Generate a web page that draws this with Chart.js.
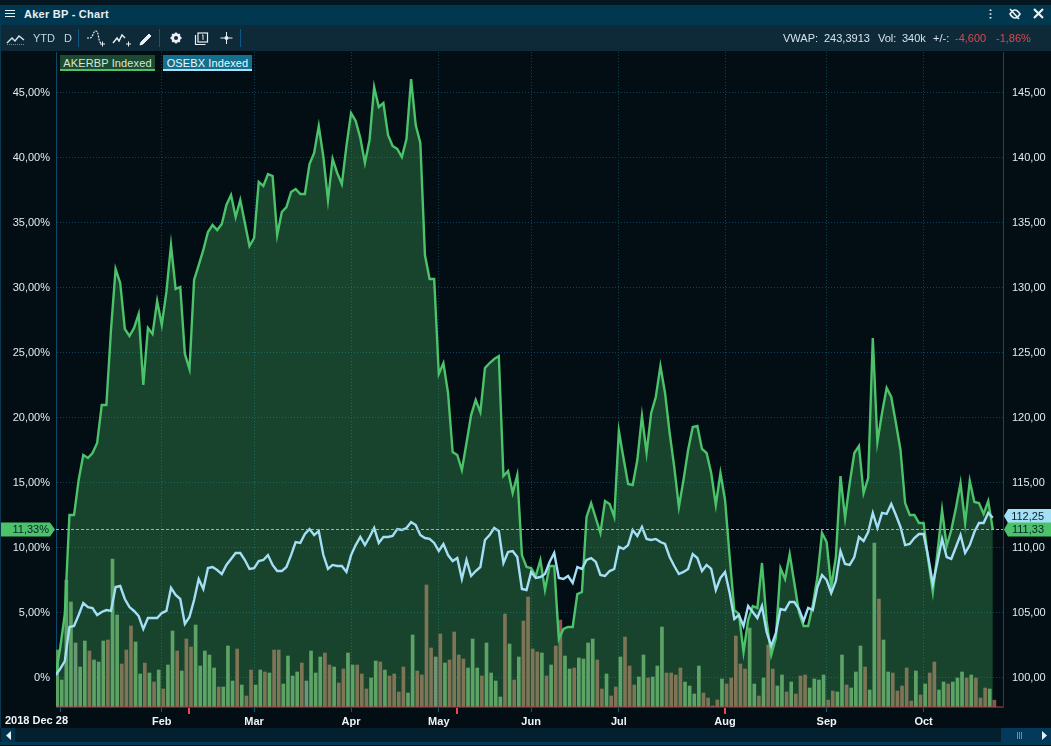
<!DOCTYPE html>
<html>
<head>
<meta charset="utf-8">
<title>Aker BP - Chart</title>
<script src="https://cdn.jsdelivr.net/npm/chart.js@4"></script>
<style>
    html, body { margin: 0; padding: 0; background: #020d14; overflow: hidden; }
    body { width: 1051px; height: 746px; position: relative; font: 11px "Liberation Sans", Arial, sans-serif; color: #c8dbe6; }
    canvas { position: absolute; left: 0; top: 0; }
    .abs { position: absolute; white-space: nowrap; }
    #topStrip { left: 0; top: 0; width: 1051px; height: 5px; background: #04161f; }
    #titleBar { left: 0; top: 5px; width: 1051px; height: 20px; background: #013850; }
    #toolBar { left: 0; top: 25px; width: 1051px; height: 26px; background: #0e2937; }
    #title { left: 24px; top: 8px; font-weight: bold; color: #e8f0f4; letter-spacing: .25px; line-height: 13px; }
    .tool { top: 32px; line-height: 13px; color: #bcd6e6; }
    .sep { top: 29px; width: 1px; height: 18px; background: #0a5a85; }
    .stat { top: 32px; line-height: 13px; color: #d4e3ec; }
    .neg { color: #e2474c; }
    .chip { top: 55px; height: 14px; line-height: 16px; text-align: center; letter-spacing: .12px; }
    #chipAker { left: 60px; width: 95px; background: #1c4a30; border-bottom: 2px solid #4cc36a; color: #d6e8da; }
    #chipOse { left: 163px; width: 89px; background: #136f8e; border-bottom: 2px solid #a5e2f8; color: #eef8fc; }
    #scrollTrack { left: 0; top: 728px; width: 1051px; height: 14px; background: #04202e; }
    #scrollLeft { left: 1px; top: 728px; width: 14px; height: 14px; background: #03334c; }
    #scrollRight { left: 1001px; top: 728px; width: 50px; height: 14px; background: #03395a; }
    #footLine { left: 0; top: 742px; width: 1051px; height: 3px; background: #013a55; }
    #edgeLine { left: 0; top: 25px; width: 1px; height: 717px; background: #0a3a50; }
</style>
</head>
<body>
<canvas id="mainChart" width="1051" height="746"></canvas>

<div class="abs" id="topStrip"></div>
<div class="abs" id="titleBar"></div>
<div class="abs" id="toolBar"></div>
<div class="abs" id="title">Aker BP - Chart</div>
<div class="abs" id="edgeLine"></div>

<!-- title bar and toolbar icons -->
<svg class="abs" style="left:0;top:0" width="1051" height="51" fill="none" stroke="#e8f0f4">
    <path d="M5 10.5h10M5 13.5h10M5 16.5h10" stroke-width="1.2"/>
    <path d="M990.5 9.5v1.6M990.5 13.2v1.6M990.5 16.9v1.6" stroke-width="1.8"/>
    <path d="M1010 14c2-3 3.500-4 5-4s3 1 5 4c-2 3-3.500 4-5 4s-3-1-5-4zM1010 9l9 10" stroke-width="1.6"/>
    <path d="M1034 9l9 9M1043 9l-9 9" stroke-width="2.2"/>

    <path d="M7 43l5-5 3 3 4-5 5 4" stroke="#d8e4ea" stroke-width="1.4"/>
    <path d="M7 44.500h18" stroke="#6f8a99" stroke-dasharray="1 1"/>
    <path d="M87 38h3c3 0 3-7 6-7s2 11 5 12" stroke="#e8f0f4" stroke-width="1.2" stroke-dasharray="2 1"/>
    <path d="M100 44h5M102.500 41.500v5M126 44h5M128.500 41.500v5" stroke-width="1"/>
    <path d="M113 43l4-5 2 3 3-6 3 3" stroke-width="1.4"/>
    <path d="M140 45l1-3 8-8 2 2-8 8z" fill="#e8f0f4" stroke-width="1"/>
    <circle cx="176" cy="38" r="3.400" stroke-width="2.800"/>
    <path d="M176 32.500v2M176 41.500v2M170.500 38h2M179.500 38h2M172.200 34.200l1.300 1.300M178.500 40.500l1.300 1.300M172.200 41.800l1.300-1.300M178.500 35.500l1.300-1.300" stroke-width="1.800"/>
    <rect x="198" y="33" width="9.500" height="9" stroke-width="1.200"/>
    <path d="M195.500 35v9.500h10" stroke-width="1.200"/>
    <path d="M202 35.500l1-.6v5" stroke-width="1"/>
    <path d="M226.500 32v12M220.500 38h12" stroke-width="1"/>
    <circle cx="226.500" cy="38" r="2" fill="#e8f0f4" stroke="none"/>
</svg>

<div class="abs tool" style="left:33px">YTD</div>
<div class="abs tool" style="left:64px">D</div>
<div class="abs sep" style="left:78px"></div>
<div class="abs sep" style="left:159px"></div>
<div class="abs sep" style="left:240px"></div>

<div class="abs stat" style="left:783px">VWAP:</div>
<div class="abs stat" style="left:824px">243,3913</div>
<div class="abs stat" style="left:878px">Vol:</div>
<div class="abs stat" style="left:902px">340k</div>
<div class="abs stat" style="left:933px">+/-:</div>
<div class="abs stat neg" style="left:955px">-4,600</div>
<div class="abs stat neg" style="left:996px">-1,86%</div>

<div class="abs chip" id="chipAker">AKERBP Indexed</div>
<div class="abs chip" id="chipOse">OSEBX Indexed</div>

<div class="abs" id="scrollTrack"></div>
<div class="abs" id="scrollLeft"></div>
<div class="abs" id="scrollRight"></div>
<div class="abs" id="footLine"></div>
<svg class="abs" style="left:0;top:728px" width="1051" height="14">
    <path d="M11 3v9l-5-4.500z" fill="#e8f0f4"/>
    <path d="M1042 3v9l5-4.500z" fill="#e8f0f4"/>
    <path d="M1017.500 4v7M1019.500 4v7M1021.500 4v7" stroke="#6f8a99"/>
</svg>

<script>
// Indexed performance in percent, one value per trading day from 2018 Dec 28
const akerValues = [
    0.15, 2.23, 4.85, 12.46, 12.46, 15.15, 17.08, 16.85, 17.23, 18.0,
    20.92, 20.92, 26.69, 31.38, 30.31, 26.77, 26.23, 26.85, 27.92, 22.46,
    26.85, 26.38, 28.92, 27.08, 29.62, 33.23, 29.85, 30.0, 24.85, 23.69,
    30.54, 31.69, 32.85, 34.23, 34.77, 34.38, 34.85, 36.31, 37.08, 35.38,
    36.69, 34.92, 33.15, 33.77, 38.08, 37.77, 38.69, 38.54, 34.0, 35.77,
    36.15, 37.31, 37.54, 37.15, 37.15, 39.46, 40.31, 42.38, 40.0, 36.69,
    39.85, 38.77, 37.92, 40.85, 43.38, 42.77, 41.46, 39.54, 41.31, 45.38,
    43.85, 44.15, 41.69, 40.85, 40.62, 40.0, 41.38, 46.0, 42.46, 41.08,
    32.46, 30.62, 30.62, 23.31, 24.15, 21.85, 17.31, 17.08, 15.92, 18.0,
    20.15, 21.31, 20.38, 23.77, 24.15, 24.46, 24.69, 15.46, 15.85, 14.15,
    15.54, 9.38, 8.46, 8.38, 7.77, 9.0, 6.69, 8.54, 8.54, 2.92,
    3.69, 3.85, 3.85, 6.38, 6.54, 12.31, 13.38, 12.23, 11.08, 13.54,
    13.31, 12.31, 18.92, 16.85, 14.85, 14.77, 16.69, 20.08, 17.23, 20.31,
    21.54, 23.92, 21.85, 18.77, 16.15, 13.08, 15.15, 17.46, 19.23, 19.31,
    17.54, 17.23, 15.69, 13.23, 15.69, 13.62, 9.23, 5.15, 4.85, 1.92,
    4.38, 5.46, 5.31, 8.77, 4.31, 1.69, 3.0, 8.38, 7.54, 9.46,
    7.23, 5.0, 3.92, 3.92, 5.54, 7.69, 11.08, 10.38, 6.92, 9.23,
    15.46, 12.23, 14.92, 17.23, 17.77, 14.15, 15.31, 26.08, 18.08, 20.31,
    22.23, 21.54, 19.54, 17.46, 13.38, 12.46, 12.46, 11.85, 11.85, 9.0,
    6.54, 9.54, 12.85, 10.08, 11.31, 13.0, 14.92, 11.85, 15.08, 13.46,
    13.38, 12.54, 13.54, 11.33
];

const osebxValues = [
    0.15, 0.62, 1.23, 3.85, 3.92, 4.77, 5.69, 5.38, 5.31, 4.77,
    5.0, 5.15, 5.08, 6.92, 7.0, 6.0, 5.38, 5.08, 4.69, 3.69,
    4.54, 4.54, 4.54, 4.92, 5.08, 6.85, 6.31, 6.0, 4.08, 4.62,
    5.92, 7.54, 6.77, 8.38, 8.46, 8.23, 7.92, 8.62, 9.08, 9.54,
    9.54, 9.0, 8.31, 8.38, 8.92, 9.0, 9.38, 8.62, 8.15, 8.15,
    8.46, 9.38, 10.38, 10.31, 11.0, 11.38, 10.92, 11.23, 9.38, 8.31,
    8.62, 8.54, 8.54, 8.08, 9.38, 10.15, 10.77, 10.15, 10.77, 11.46,
    10.31, 10.77, 10.77, 10.85, 11.38, 11.31, 11.46, 11.92, 11.69, 10.92,
    10.69, 10.62, 10.31, 9.69, 10.23, 9.38, 8.92, 9.15, 7.54, 9.0,
    7.77, 8.15, 8.46, 10.54, 10.92, 11.46, 11.23, 8.77, 9.62, 9.69,
    9.23, 6.77, 6.69, 8.08, 7.62, 7.69, 7.92, 8.85, 9.54, 7.62,
    7.54, 7.77, 7.23, 8.46, 8.31, 9.0, 9.15, 8.85, 7.85, 7.77,
    8.15, 8.31, 10.0, 9.85, 10.15, 11.31, 10.85, 11.54, 10.62, 10.54,
    10.62, 10.38, 10.23, 9.23, 8.54, 7.92, 8.08, 8.31, 9.46, 9.15,
    8.15, 8.62, 8.31, 6.69, 7.62, 8.08, 6.46, 4.46, 4.77, 3.92,
    5.46, 5.0, 4.54, 5.46, 3.46, 2.38, 3.38, 5.23, 5.15, 5.77,
    5.77, 5.23, 4.31, 5.31, 5.15, 6.92, 7.85, 7.46, 6.46, 7.38,
    9.69, 8.69, 8.62, 9.23, 10.77, 10.46, 11.15, 12.62, 11.46, 12.62,
    12.54, 13.31, 12.46, 11.54, 10.15, 10.23, 10.69, 11.0, 11.0, 9.23,
    7.15, 8.85, 10.62, 9.23, 9.08, 10.0, 10.92, 9.54, 10.15, 11.15,
    11.85, 11.85, 12.62, 12.25
];

// Daily volume in thousands of shares
const volumes = [
    2850, 1350, 6350, 5250, 3200, 2000, 3300, 2800, 2350, 2250,
    3300, 3350, 7400, 4600, 2150, 2850, 4050, 3250, 1650, 2200,
    1700, 1250, 1850, 900, 2100, 3800, 2800, 1800, 3400, 3000,
    4100, 2050, 2800, 2600, 1950, 1000, 1000, 3050, 1300, 2900,
    1100, 550, 1850, 1100, 1850, 1750, 1700, 2850, 2850, 1150,
    2550, 1550, 1750, 2200, 1300, 2800, 1700, 2500, 2700, 2100,
    2000, 1200, 1900, 2700, 2100, 2100, 1650, 900, 1450, 2300,
    2250, 1850, 1550, 1650, 750, 2000, 700, 3600, 1800, 1600,
    6100, 2950, 2500, 3650, 2200, 2350, 3750, 2600, 2400, 1950,
    3400, 1950, 1550, 3200, 1700, 1300, 500, 4650, 3150, 1350,
    2500, 4300, 5500, 2900, 2750, 2700, 1550, 2100, 3050, 4350,
    2550, 1900, 1950, 2450, 2400, 3200, 3400, 2350, 900, 1650,
    550, 1000, 2500, 3500, 2050, 1100, 1500, 2600, 1450, 1500,
    2050, 4000, 1700, 1700, 1600, 1950, 1250, 1050, 650, 2050,
    700, 450, 50, 350, 1400, 1150, 1450, 3550, 2150, 1900,
    3950, 1150, 550, 1450, 3100, 1900, 1050, 1600, 750, 1250,
    650, 1550, 1600, 950, 1400, 1350, 1600, 350, 800, 750,
    2600, 1100, 950, 1750, 3050, 2000, 850, 8200, 5400, 3350,
    1750, 1700, 800, 1050, 1950, 300, 1800, 600, 1150, 1700,
    2250, 850, 1250, 1150, 1250, 1450, 1750, 1450, 1600, 1450,
    450, 950, 900, 340
];

// u = up day, d = down day, f = flat day
const volumeSides = [
    'uuuuf', 'uuduu', 'uduud', 'dduud', 'ududu', 'ududd', 'uuuuu', 'duuud',
    'udduu', 'duddu', 'uuudf', 'uuudd', 'udduu', 'ddduu', 'duddd', 'duudd',
    'ddfdu', 'ddddu', 'uuduu', 'uudud', 'udddd', 'ududd', 'uuduu', 'uuddu',
    'ddudd', 'duudu', 'uuddd', 'duuuu', 'ddddu', 'ddddd', 'uudud', 'duudu',
    'ddduu', 'uuddu', 'uduuu', 'duudu', 'udddd', 'dudud', 'duudu', 'uudud',
    'ddud'
].join('');

// X axis ticks as trading day numbers
const firstTickDay = 1;
const firstTickLabel = '2018 Dec 28';
const monthTickDays = [23, 43, 64, 83, 103, 122, 145, 167, 188];
const monthLabels = ['Feb', 'Mar', 'Apr', 'May', 'Jun', 'Jul', 'Aug', 'Sep', 'Oct'];

// Trading days with an event marker under the axis
const eventDays = [29, 87, 145];

// Value axes
const percentMin = -30 / 13;
const percentMax = 625 / 13;
const indexBase = 100;

// Colours
const AKER_COLOR = '#4cc36a';
const OSEBX_COLOR = '#a5dff5';
const GRID_COLOR = '#0b4258';
const AXIS_COLOR = '#0c4a6a';
const LABEL_COLOR = '#e2ebf0';
const VOLUME_COLORS = { u: 'rgb(100,150,100)', d: 'rgb(148,82,78)', f: 'rgb(124,130,126)' };

function formatComma(value) {
    return value.toFixed(2).replace('.', ',');
}

// Small value tag next to an axis, pointing at the plot
function drawTag(ctx, left, right, y, tipX, color, text) {
    ctx.fillStyle = color;
    ctx.beginPath();
    if (tipX > right) {
        ctx.moveTo(left, y - 7);
        ctx.lineTo(right, y - 7);
        ctx.lineTo(tipX, y);
        ctx.lineTo(right, y + 7);
        ctx.lineTo(left, y + 7);
    } else {
        ctx.moveTo(right, y - 7);
        ctx.lineTo(left, y - 7);
        ctx.lineTo(tipX, y);
        ctx.lineTo(left, y + 7);
        ctx.lineTo(right, y + 7);
    }
    ctx.closePath();
    ctx.fill();
    ctx.fillStyle = '#06222a';
    ctx.font = '11px "Liberation Sans"';
    ctx.textBaseline = 'middle';
    ctx.textAlign = 'right';
    ctx.fillText(text, tipX > right ? 49 : 1044, y + 0.5);
}

// Reference line, value tags, first date label and event markers
const overlayPlugin = {
    id: 'overlay',
    afterDraw(chart) {
        const { ctx, chartArea } = chart;
        const x = chart.scales.x;
        const y = chart.scales.y;
        const lastAker = akerValues[akerValues.length - 1];
        const lastOsebx = osebxValues[osebxValues.length - 1];
        const akerY = Math.floor(y.getPixelForValue(lastAker)) + 0.5;
        const osebxY = Math.floor(y.getPixelForValue(lastOsebx)) - 1;

        ctx.save();

        // thin red run along the foot of the volume bars
        ctx.strokeStyle = 'rgba(170,60,70,0.55)';
        ctx.lineWidth = 1;
        ctx.beginPath();
        ctx.moveTo(chartArea.left, chartArea.bottom - 0.5);
        ctx.lineTo(chartArea.right, chartArea.bottom - 0.5);
        ctx.stroke();

        ctx.strokeStyle = '#6fd08c';
        ctx.setLineDash([3, 2]);
        ctx.beginPath();
        ctx.moveTo(chartArea.left, akerY);
        ctx.lineTo(chartArea.right, akerY);
        ctx.stroke();
        ctx.setLineDash([]);

        drawTag(ctx, 0, 50, akerY, 55, AKER_COLOR, formatComma(lastAker) + '%');
        drawTag(ctx, 1008, 1051, osebxY, 1004, OSEBX_COLOR, formatComma(indexBase + lastOsebx));
        drawTag(ctx, 1008, 1051, akerY, 1004, AKER_COLOR, formatComma(indexBase + lastAker));

        ctx.fillStyle = '#f0f4f6';
        ctx.font = 'bold 11px "Liberation Sans"';
        ctx.textAlign = 'left';
        ctx.textBaseline = 'middle';
        ctx.fillText(firstTickLabel, 5, 720.5);

        ctx.fillStyle = '#f0454a';
        eventDays.forEach(day => {
            ctx.fillRect(Math.round(x.getPixelForValue(day)) - 1, chartArea.bottom + 1, 2, 6);
        });

        ctx.restore();
    }
};

function initializeChart() {
    Chart.defaults.font.family = '"Liberation Sans", Arial, sans-serif';
    Chart.defaults.font.size = 11;

    const dayNumbers = akerValues.map((_, i) => i);
    const tickDays = [firstTickDay].concat(monthTickDays);
    const barShift = 0.33; // bars start at the day's point instead of centring on it

    new Chart(document.getElementById('mainChart').getContext('2d'), {
        type: 'line',
        data: {
            labels: dayNumbers,
            datasets: [
                {
                    type: 'line',
                    label: 'OSEBX Indexed',
                    data: dayNumbers.map(i => ({ x: i, y: osebxValues[i] })),
                    borderColor: OSEBX_COLOR,
                    borderWidth: 2.4,
                    pointRadius: 0,
                    tension: 0,
                    fill: false,
                    order: 1
                },
                {
                    type: 'line',
                    label: 'AKERBP Indexed',
                    data: dayNumbers.map(i => ({ x: i, y: akerValues[i] })),
                    borderColor: AKER_COLOR,
                    backgroundColor: 'rgba(76,195,106,0.3)',
                    borderWidth: 2.4,
                    pointRadius: 0,
                    tension: 0,
                    fill: 'start',
                    order: 2
                },
                {
                    type: 'bar',
                    label: 'Volume',
                    data: dayNumbers.map(i => ({ x: i + barShift, y: volumes[i] })),
                    backgroundColor: dayNumbers.map(i => VOLUME_COLORS[volumeSides[i]]),
                    barThickness: 3,
                    yAxisID: 'yVolume',
                    order: 3
                }
            ]
        },
        options: {
            responsive: false,
            animation: false,
            parsing: { xAxisKey: 'x', yAxisKey: 'y' },
            layout: { padding: { top: 52 } },
            plugins: { legend: { display: false }, tooltip: { enabled: false } },
            scales: {
                x: {
                    type: 'linear',
                    offset: false,
                    min: 0.09,
                    max: 205.2,
                    afterBuildTicks(scale) {
                        scale.ticks = tickDays.map(value => ({ value }));
                    },
                    afterFit(scale) {
                        scale.height = 39;
                    },
                    grid: {
                        offset: false,
                        color: context => context.tick && context.tick.value === firstTickDay ? 'transparent' : GRID_COLOR,
                        tickColor: '#0c5a80',
                        tickLength: 5
                    },
                    border: { color: AXIS_COLOR, dash: [1, 2] },
                    ticks: {
                        autoSkip: false,
                        maxRotation: 0,
                        padding: 3,
                        color: '#f0f4f6',
                        font: { weight: 'bold', size: 11 },
                        callback: value => monthLabels[monthTickDays.indexOf(value)] || ''
                    }
                },
                y: {
                    position: 'left',
                    min: percentMin,
                    max: percentMax,
                    afterFit(scale) {
                        scale.width = 56;
                    },
                    grid: { color: GRID_COLOR, drawTicks: false },
                    border: { color: AXIS_COLOR, dash: [1, 2] },
                    ticks: {
                        stepSize: 5,
                        includeBounds: false,
                        padding: 6,
                        labelOffset: 1,
                        color: LABEL_COLOR,
                        callback: value => value === 0 ? '0%' : formatComma(value) + '%'
                    }
                },
                yIndex: {
                    position: 'right',
                    min: indexBase + percentMin,
                    max: indexBase + percentMax,
                    afterFit(scale) {
                        scale.width = 48;
                    },
                    grid: { display: false, drawTicks: false },
                    border: { color: AXIS_COLOR },
                    ticks: {
                        stepSize: 5,
                        includeBounds: false,
                        padding: 9,
                        labelOffset: 1,
                        color: LABEL_COLOR,
                        callback: value => formatComma(value)
                    }
                },
                yVolume: {
                    display: false,
                    position: 'left',
                    min: 0,
                    max: 32750
                }
            }
        },
        plugins: [overlayPlugin]
    });
}

document.addEventListener('DOMContentLoaded', initializeChart);
</script>
</body>
</html>
